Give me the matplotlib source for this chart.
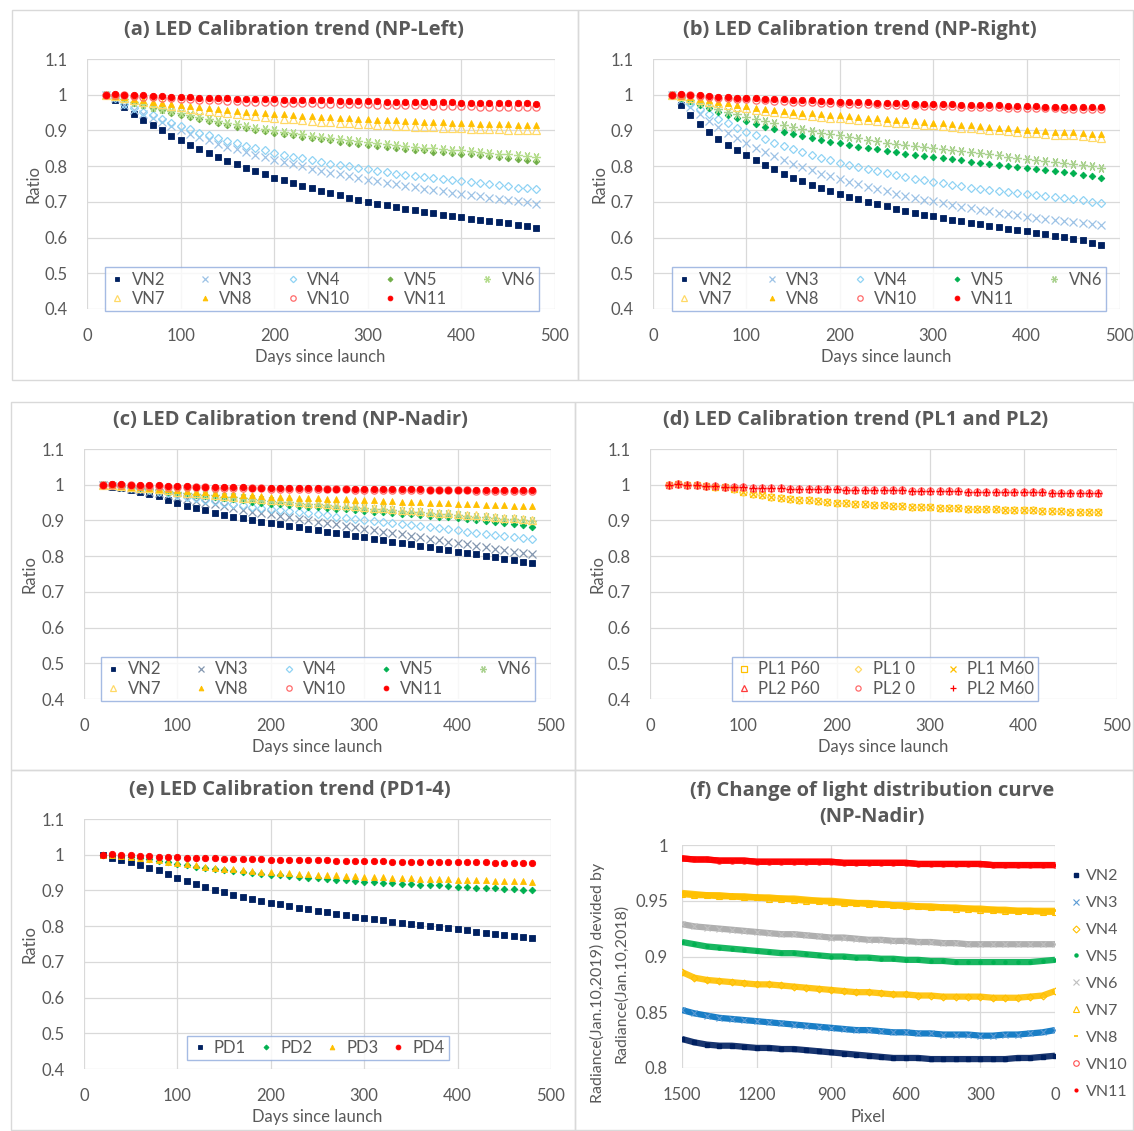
import matplotlib
matplotlib.use('Agg')
import matplotlib.pyplot as plt
from matplotlib.patches import Rectangle

# ---------------- data ----------------
days = [20, 30, 40, 50, 60, 70, 80, 90, 100, 110, 120, 130, 140, 150, 160, 170, 180, 190, 200,
        210, 220, 230, 240, 250, 260, 270, 280, 290, 300, 310, 320, 330, 340, 350, 360, 370, 380,
        390, 400, 410, 420, 430, 440, 450, 460, 470, 480]

# (a) NP-Left
a_VN2 = [1.000,0.985,0.965,0.945,0.930,0.915,0.900,0.885,0.872,0.860,0.848,0.836,0.825,0.815,0.805,0.795,0.786,0.777,0.768,0.760,0.752,0.745,0.738,0.731,0.724,0.718,0.712,0.706,0.700,0.695,0.690,0.685,0.680,0.676,0.672,0.668,0.664,0.660,0.657,0.653,0.650,0.646,0.643,0.640,0.636,0.632,0.627]
a_VN3 = [1.000,0.990,0.972,0.958,0.946,0.934,0.923,0.912,0.901,0.891,0.881,0.872,0.863,0.855,0.847,0.839,0.832,0.825,0.818,0.811,0.805,0.799,0.793,0.787,0.782,0.777,0.772,0.767,0.762,0.757,0.753,0.749,0.745,0.741,0.737,0.733,0.729,0.726,0.722,0.719,0.716,0.712,0.709,0.706,0.703,0.699,0.695]
a_VN4 = [1.000,0.990,0.975,0.962,0.952,0.942,0.932,0.922,0.912,0.903,0.894,0.886,0.878,0.871,0.864,0.857,0.850,0.844,0.838,0.832,0.827,0.822,0.817,0.812,0.807,0.803,0.799,0.795,0.791,0.787,0.783,0.779,0.776,0.773,0.770,0.767,0.764,0.761,0.758,0.755,0.752,0.749,0.746,0.743,0.740,0.738,0.735]
a_VN5 = [1.000,0.995,0.987,0.978,0.970,0.963,0.956,0.950,0.944,0.938,0.932,0.926,0.921,0.916,0.911,0.906,0.902,0.898,0.894,0.890,0.886,0.882,0.878,0.875,0.872,0.869,0.866,0.863,0.860,0.857,0.854,0.851,0.849,0.846,0.844,0.841,0.839,0.837,0.835,0.833,0.830,0.828,0.826,0.824,0.821,0.818,0.815]
a_VN6 = [1.000,0.996,0.989,0.981,0.973,0.966,0.960,0.954,0.948,0.942,0.937,0.931,0.926,0.921,0.917,0.912,0.908,0.904,0.900,0.896,0.892,0.889,0.885,0.882,0.879,0.876,0.873,0.870,0.867,0.865,0.862,0.859,0.857,0.854,0.852,0.850,0.848,0.846,0.844,0.842,0.839,0.837,0.835,0.833,0.831,0.828,0.825]
a_VN7 = [1.000,0.996,0.991,0.986,0.981,0.977,0.973,0.969,0.965,0.961,0.958,0.954,0.951,0.948,0.945,0.942,0.940,0.937,0.935,0.933,0.931,0.929,0.927,0.925,0.923,0.922,0.920,0.919,0.917,0.916,0.915,0.913,0.912,0.911,0.910,0.909,0.908,0.907,0.906,0.905,0.904,0.903,0.903,0.902,0.901,0.901,0.900]
a_VN8 = [1.000,0.997,0.993,0.989,0.985,0.981,0.978,0.975,0.972,0.969,0.966,0.963,0.960,0.958,0.955,0.953,0.951,0.949,0.947,0.945,0.943,0.941,0.940,0.938,0.937,0.935,0.934,0.933,0.931,0.930,0.929,0.928,0.927,0.926,0.925,0.924,0.923,0.922,0.921,0.920,0.919,0.918,0.918,0.917,0.916,0.916,0.915]
a_VN10 = [1.000,1.000,0.998,0.996,0.994,0.993,0.991,0.990,0.988,0.987,0.986,0.985,0.984,0.983,0.982,0.981,0.980,0.980,0.979,0.978,0.977,0.977,0.976,0.975,0.975,0.974,0.974,0.973,0.973,0.972,0.972,0.971,0.971,0.970,0.970,0.969,0.969,0.969,0.968,0.968,0.967,0.967,0.967,0.966,0.966,0.965,0.965]
a_VN11 = [1.000,1.003,1.000,0.999,0.998,0.997,0.996,0.995,0.994,0.993,0.992,0.991,0.990,0.990,0.989,0.988,0.988,0.987,0.987,0.986,0.986,0.985,0.985,0.984,0.984,0.983,0.983,0.982,0.982,0.982,0.981,0.981,0.980,0.980,0.980,0.979,0.979,0.979,0.978,0.978,0.977,0.977,0.977,0.976,0.976,0.976,0.975]

# (b) NP-Right
b_VN2 = [1.000,0.970,0.943,0.918,0.896,0.877,0.860,0.844,0.830,0.816,0.803,0.791,0.779,0.768,0.758,0.748,0.739,0.730,0.722,0.714,0.707,0.700,0.693,0.687,0.681,0.675,0.669,0.664,0.659,0.654,0.649,0.645,0.641,0.637,0.633,0.629,0.625,0.621,0.617,0.613,0.609,0.605,0.601,0.597,0.592,0.586,0.578]
b_VN3 = [1.000,0.985,0.965,0.945,0.926,0.909,0.893,0.878,0.864,0.851,0.839,0.828,0.817,0.807,0.797,0.788,0.779,0.771,0.763,0.756,0.749,0.742,0.735,0.729,0.723,0.717,0.711,0.706,0.701,0.696,0.691,0.686,0.682,0.678,0.674,0.670,0.666,0.662,0.658,0.655,0.652,0.649,0.646,0.643,0.640,0.638,0.635]
b_VN4 = [1.000,0.990,0.975,0.960,0.946,0.932,0.920,0.908,0.897,0.886,0.876,0.866,0.857,0.848,0.840,0.832,0.824,0.817,0.810,0.803,0.797,0.791,0.785,0.780,0.775,0.770,0.765,0.760,0.756,0.752,0.748,0.744,0.740,0.737,0.734,0.731,0.728,0.725,0.722,0.719,0.716,0.713,0.710,0.707,0.704,0.700,0.696]
b_VN5 = [1.000,0.990,0.982,0.972,0.962,0.953,0.944,0.935,0.927,0.919,0.911,0.904,0.897,0.891,0.885,0.879,0.874,0.869,0.864,0.859,0.855,0.851,0.847,0.843,0.839,0.835,0.832,0.828,0.825,0.822,0.819,0.816,0.813,0.810,0.807,0.804,0.801,0.798,0.795,0.792,0.789,0.786,0.783,0.780,0.776,0.771,0.766]
b_VN6 = [1.000,0.993,0.985,0.977,0.969,0.961,0.953,0.946,0.939,0.932,0.926,0.920,0.914,0.909,0.904,0.899,0.894,0.890,0.886,0.882,0.878,0.874,0.870,0.866,0.863,0.860,0.857,0.854,0.851,0.848,0.845,0.842,0.839,0.836,0.833,0.830,0.827,0.824,0.821,0.818,0.815,0.812,0.809,0.806,0.803,0.799,0.795]
b_VN7 = [1.000,0.996,0.991,0.986,0.981,0.977,0.972,0.967,0.963,0.958,0.955,0.951,0.948,0.945,0.942,0.940,0.938,0.936,0.934,0.932,0.930,0.928,0.926,0.924,0.922,0.920,0.918,0.916,0.914,0.912,0.910,0.908,0.906,0.904,0.902,0.900,0.898,0.896,0.894,0.892,0.890,0.888,0.887,0.886,0.884,0.882,0.880]
b_VN8 = [1.000,0.997,0.993,0.988,0.984,0.980,0.976,0.972,0.968,0.964,0.961,0.958,0.955,0.952,0.950,0.948,0.946,0.944,0.942,0.940,0.938,0.936,0.934,0.932,0.930,0.928,0.926,0.924,0.922,0.920,0.918,0.916,0.914,0.912,0.910,0.908,0.906,0.904,0.902,0.900,0.898,0.897,0.896,0.895,0.893,0.891,0.889]
b_VN10 = [1.000,1.000,0.998,0.996,0.994,0.992,0.990,0.988,0.987,0.985,0.984,0.983,0.982,0.981,0.980,0.979,0.978,0.977,0.976,0.975,0.974,0.974,0.973,0.972,0.971,0.971,0.970,0.969,0.969,0.968,0.968,0.967,0.966,0.966,0.965,0.965,0.964,0.964,0.963,0.963,0.962,0.962,0.961,0.961,0.961,0.960,0.960]
b_VN11 = [1.000,1.003,1.000,0.998,0.997,0.995,0.994,0.992,0.991,0.990,0.989,0.988,0.987,0.986,0.985,0.984,0.983,0.982,0.981,0.980,0.979,0.979,0.978,0.977,0.976,0.976,0.975,0.974,0.974,0.973,0.973,0.972,0.971,0.971,0.970,0.970,0.969,0.969,0.968,0.968,0.967,0.967,0.966,0.966,0.966,0.965,0.965]

# (c) NP-Nadir
c_VN2 = [1.000,0.995,0.990,0.985,0.980,0.975,0.968,0.958,0.949,0.941,0.934,0.928,0.922,0.916,0.911,0.906,0.901,0.897,0.893,0.889,0.885,0.881,0.877,0.873,0.869,0.865,0.861,0.857,0.853,0.849,0.845,0.841,0.837,0.833,0.829,0.825,0.821,0.817,0.813,0.809,0.805,0.801,0.797,0.793,0.789,0.785,0.781]
c_VN3 = [1.000,0.997,0.993,0.989,0.985,0.981,0.977,0.972,0.966,0.960,0.955,0.950,0.945,0.940,0.935,0.930,0.925,0.921,0.917,0.913,0.909,0.905,0.901,0.897,0.893,0.889,0.885,0.881,0.877,0.873,0.869,0.865,0.861,0.857,0.853,0.849,0.845,0.841,0.837,0.833,0.829,0.825,0.821,0.817,0.813,0.809,0.805]
c_VN4 = [1.000,0.998,0.995,0.992,0.988,0.984,0.980,0.976,0.971,0.966,0.962,0.958,0.954,0.950,0.946,0.942,0.938,0.935,0.932,0.929,0.926,0.923,0.920,0.917,0.914,0.911,0.908,0.905,0.902,0.899,0.896,0.893,0.890,0.887,0.884,0.881,0.878,0.875,0.872,0.869,0.866,0.863,0.860,0.857,0.854,0.851,0.847]
c_VN5 = [1.000,0.998,0.996,0.993,0.990,0.987,0.984,0.981,0.977,0.974,0.971,0.968,0.965,0.962,0.959,0.956,0.953,0.950,0.947,0.945,0.943,0.941,0.939,0.937,0.935,0.933,0.931,0.929,0.927,0.925,0.923,0.921,0.919,0.917,0.915,0.913,0.911,0.909,0.907,0.905,0.902,0.899,0.896,0.893,0.890,0.886,0.882]
c_VN6 = [1.000,0.998,0.996,0.994,0.991,0.989,0.986,0.983,0.980,0.977,0.975,0.972,0.970,0.967,0.965,0.962,0.960,0.958,0.955,0.953,0.951,0.949,0.947,0.945,0.943,0.941,0.939,0.937,0.935,0.933,0.931,0.929,0.927,0.925,0.923,0.921,0.919,0.917,0.915,0.913,0.911,0.909,0.907,0.905,0.903,0.901,0.899]
c_VN7 = [1.000,0.998,0.996,0.994,0.992,0.990,0.987,0.984,0.981,0.978,0.976,0.973,0.971,0.968,0.966,0.964,0.962,0.960,0.958,0.956,0.954,0.952,0.950,0.948,0.946,0.944,0.942,0.940,0.938,0.936,0.934,0.932,0.930,0.928,0.926,0.924,0.922,0.920,0.918,0.916,0.914,0.912,0.910,0.908,0.906,0.904,0.902]
c_VN8 = [1.000,0.999,0.997,0.995,0.993,0.991,0.989,0.987,0.985,0.983,0.981,0.979,0.977,0.975,0.973,0.971,0.970,0.968,0.967,0.966,0.965,0.964,0.963,0.962,0.961,0.960,0.959,0.958,0.957,0.956,0.955,0.954,0.953,0.952,0.951,0.950,0.949,0.948,0.947,0.946,0.945,0.944,0.943,0.942,0.941,0.941,0.940]
c_VN10 = [1.000,1.000,0.999,0.998,0.997,0.996,0.996,0.995,0.994,0.994,0.993,0.993,0.992,0.992,0.991,0.991,0.990,0.990,0.989,0.989,0.989,0.988,0.988,0.988,0.987,0.987,0.987,0.986,0.986,0.986,0.986,0.985,0.985,0.985,0.985,0.984,0.984,0.984,0.984,0.984,0.983,0.983,0.983,0.983,0.983,0.982,0.982]
c_VN11 = [1.000,1.003,1.001,1.000,0.999,0.998,0.998,0.997,0.996,0.996,0.995,0.995,0.994,0.994,0.993,0.993,0.992,0.992,0.991,0.991,0.991,0.990,0.990,0.990,0.989,0.989,0.989,0.988,0.988,0.988,0.988,0.987,0.987,0.987,0.987,0.986,0.986,0.986,0.986,0.986,0.985,0.985,0.985,0.985,0.985,0.984,0.984]

# (d) PL1 and PL2
PL1_P60 = [1.000,1.001,0.999,0.998,0.997,0.995,0.993,0.988,0.981,0.975,0.970,0.966,0.963,0.960,0.958,0.956,0.954,0.952,0.950,0.948,0.947,0.945,0.944,0.943,0.941,0.940,0.939,0.938,0.937,0.936,0.935,0.934,0.933,0.932,0.931,0.931,0.930,0.929,0.928,0.928,0.927,0.926,0.926,0.925,0.924,0.924,0.923]
PL1_0 = [1.000,1.001,0.999,0.998,0.997,0.995,0.993,0.988,0.981,0.975,0.970,0.966,0.963,0.960,0.958,0.956,0.954,0.952,0.950,0.948,0.947,0.945,0.944,0.943,0.941,0.940,0.939,0.938,0.937,0.936,0.935,0.934,0.933,0.932,0.931,0.931,0.930,0.929,0.928,0.928,0.927,0.926,0.926,0.925,0.924,0.924,0.923]
PL1_M60 = [1.000,1.001,0.999,0.998,0.997,0.995,0.993,0.988,0.981,0.975,0.970,0.966,0.963,0.960,0.958,0.956,0.954,0.952,0.950,0.948,0.947,0.945,0.944,0.943,0.941,0.940,0.939,0.938,0.937,0.936,0.935,0.934,0.933,0.932,0.931,0.931,0.930,0.929,0.928,0.928,0.927,0.926,0.926,0.925,0.924,0.924,0.923]
PL2_P60 = [1.000,1.001,0.999,0.998,0.997,0.996,0.995,0.994,0.993,0.992,0.991,0.991,0.990,0.989,0.989,0.988,0.988,0.987,0.987,0.986,0.986,0.985,0.985,0.984,0.984,0.984,0.983,0.983,0.983,0.982,0.982,0.982,0.981,0.981,0.981,0.980,0.980,0.980,0.979,0.979,0.979,0.978,0.978,0.978,0.978,0.977,0.977]
PL2_0 = [1.000,1.001,0.999,0.998,0.997,0.996,0.995,0.994,0.993,0.992,0.991,0.991,0.990,0.989,0.989,0.988,0.988,0.987,0.987,0.986,0.986,0.985,0.985,0.984,0.984,0.984,0.983,0.983,0.983,0.982,0.982,0.982,0.981,0.981,0.981,0.980,0.980,0.980,0.979,0.979,0.979,0.978,0.978,0.978,0.978,0.977,0.977]
PL2_M60 = [1.000,1.001,0.999,0.998,0.997,0.996,0.995,0.994,0.993,0.992,0.991,0.991,0.990,0.989,0.989,0.988,0.988,0.987,0.987,0.986,0.986,0.985,0.985,0.984,0.984,0.984,0.983,0.983,0.983,0.982,0.982,0.982,0.981,0.981,0.981,0.980,0.980,0.980,0.979,0.979,0.979,0.978,0.978,0.978,0.978,0.977,0.977]

# (e) PD1-4
PD1 = [1.000,0.992,0.986,0.979,0.971,0.964,0.956,0.946,0.936,0.927,0.918,0.910,0.902,0.895,0.888,0.882,0.876,0.871,0.866,0.861,0.856,0.851,0.847,0.843,0.839,0.835,0.831,0.827,0.823,0.819,0.816,0.812,0.809,0.806,0.803,0.800,0.797,0.794,0.791,0.788,0.785,0.782,0.779,0.776,0.773,0.770,0.766]
PD2 = [1.000,0.998,0.996,0.993,0.990,0.987,0.983,0.979,0.975,0.971,0.967,0.963,0.960,0.957,0.954,0.951,0.948,0.946,0.944,0.942,0.940,0.938,0.936,0.934,0.932,0.930,0.928,0.927,0.925,0.924,0.922,0.921,0.919,0.918,0.916,0.915,0.914,0.912,0.911,0.910,0.908,0.907,0.906,0.904,0.903,0.902,0.900]
PD3 = [1.000,0.998,0.996,0.994,0.991,0.988,0.985,0.981,0.977,0.973,0.970,0.967,0.964,0.961,0.959,0.957,0.955,0.953,0.951,0.950,0.948,0.947,0.945,0.944,0.943,0.942,0.941,0.940,0.939,0.938,0.937,0.936,0.935,0.934,0.933,0.932,0.931,0.931,0.930,0.929,0.929,0.928,0.927,0.927,0.926,0.926,0.925]
PD4 = [1.000,1.001,0.999,0.998,0.997,0.996,0.995,0.994,0.993,0.992,0.991,0.990,0.990,0.989,0.988,0.988,0.987,0.987,0.986,0.986,0.985,0.985,0.985,0.984,0.984,0.983,0.983,0.983,0.982,0.982,0.982,0.981,0.981,0.981,0.980,0.980,0.980,0.980,0.979,0.979,0.979,0.979,0.978,0.978,0.978,0.978,0.978]

# (f) light distribution curve, pixel 1500 -> 0
pixels = [1500,1450,1400,1350,1300,1250,1200,1150,1100,1050,1000,950,900,850,800,750,700,650,600,550,500,450,400,350,300,250,200,150,100,50,0]
f_VN2 = [0.826,0.823,0.821,0.820,0.820,0.819,0.818,0.818,0.817,0.817,0.816,0.815,0.814,0.813,0.812,0.811,0.810,0.809,0.809,0.809,0.808,0.808,0.808,0.808,0.808,0.808,0.808,0.809,0.809,0.810,0.811]
f_VN3 = [0.852,0.849,0.847,0.845,0.844,0.843,0.842,0.841,0.840,0.839,0.838,0.837,0.836,0.835,0.834,0.834,0.833,0.832,0.832,0.831,0.831,0.830,0.830,0.830,0.829,0.829,0.830,0.830,0.831,0.832,0.834]
f_VN4 = [0.886,0.881,0.879,0.878,0.877,0.876,0.875,0.875,0.874,0.873,0.872,0.871,0.870,0.869,0.868,0.868,0.867,0.866,0.866,0.865,0.865,0.864,0.864,0.864,0.864,0.863,0.863,0.863,0.864,0.865,0.869]
f_VN5 = [0.913,0.911,0.909,0.908,0.907,0.906,0.905,0.904,0.903,0.903,0.902,0.901,0.900,0.900,0.899,0.899,0.898,0.898,0.897,0.897,0.896,0.896,0.895,0.895,0.895,0.895,0.895,0.895,0.895,0.896,0.897]
f_VN6 = [0.929,0.927,0.926,0.925,0.924,0.923,0.922,0.921,0.920,0.920,0.919,0.918,0.917,0.917,0.916,0.915,0.915,0.914,0.914,0.913,0.913,0.912,0.912,0.911,0.911,0.911,0.911,0.911,0.911,0.911,0.911]
f_VN7 = [0.956,0.955,0.955,0.954,0.954,0.953,0.953,0.952,0.952,0.951,0.950,0.950,0.949,0.948,0.948,0.947,0.947,0.946,0.945,0.945,0.944,0.944,0.943,0.943,0.942,0.942,0.941,0.941,0.941,0.940,0.940]
f_VN8 = [0.957,0.956,0.955,0.955,0.954,0.954,0.953,0.953,0.952,0.952,0.951,0.950,0.950,0.949,0.948,0.948,0.947,0.946,0.946,0.945,0.945,0.944,0.944,0.943,0.943,0.942,0.942,0.941,0.941,0.941,0.941]
f_VN10 = [0.988,0.987,0.987,0.986,0.986,0.986,0.985,0.985,0.985,0.985,0.985,0.985,0.985,0.984,0.984,0.984,0.984,0.984,0.984,0.983,0.983,0.983,0.983,0.983,0.983,0.982,0.982,0.982,0.982,0.982,0.982]
f_VN11 = [0.988,0.987,0.987,0.986,0.986,0.986,0.985,0.985,0.985,0.985,0.985,0.985,0.985,0.984,0.984,0.984,0.984,0.984,0.984,0.983,0.983,0.983,0.983,0.983,0.983,0.982,0.982,0.982,0.982,0.982,0.982]

day_ticks = [0, 100, 200, 300, 400, 500]
ratio_ticks = [0.4, 0.5, 0.6, 0.7, 0.8, 0.9, 1.0, 1.1]
ratio_labels = ['0.4', '0.5', '0.6', '0.7', '0.8', '0.9', '1', '1.1']
pixel_ticks = [0, 300, 600, 900, 1200, 1500]
rad_ticks = [0.8, 0.85, 0.9, 0.95, 1.0]
rad_labels = ['0.8', '0.85', '0.9', '0.95', '1']

# ---------------- style ----------------
W, H = 1134, 1131
plt.rcParams['font.family'] = ['Lato', 'DejaVu Sans']
TXT = '#595959'
GRID = '#d9d9d9'
LEGEDGE = '#8faadc'
NAVY = '#002060'
TITLE_FONT = ['Open Sans', 'Lato', 'DejaVu Sans']

fig = plt.figure(figsize=(W / 100, H / 100), dpi=100)


def box(l, t, r, b):
    return [l / W, 1 - b / H, (r - l) / W, (b - t) / H]


def ftext(x, y, s, **kw):
    fig.text(x / W, 1 - y / H, s, ha='center', va='center', color=TXT, **kw)


# panel borders
for (l, t, r, b) in [(12, 10, 578, 380), (578, 10, 1133, 380), (11, 402, 575, 770),
                     (575, 402, 1133, 770), (11, 770, 575, 1130), (575, 770, 1133, 1130)]:
    fig.add_artist(Rectangle((l / W, 1 - b / H), (r - l) / W, (b - t) / H,
                             transform=fig.transFigure, fill=False, ec=GRID, lw=1))


def vn_styles(c3, c4, c5, c6):
    return {
        'VN2': dict(marker='s', ms=4.3, mfc=NAVY, mec=NAVY, mew=0.6),
        'VN3': dict(marker='x', ms=5.5, mfc='none', mec=c3, mew=0.9),
        'VN4': dict(marker='D', ms=4.3, mfc='none', mec=c4, mew=0.9),
        'VN5': dict(marker='D', ms=3.4, mfc=c5, mec=c5, mew=0.6),
        'VN6': dict(marker=(6, 2, 90), ms=6.5, mfc='none', mec=c6, mew=0.9),
        'VN7': dict(marker='^', ms=5.2, mfc='none', mec='#ffd966', mew=0.9),
        'VN8': dict(marker='^', ms=4.6, mfc='#ffc000', mec='#ffc000', mew=0.6),
        'VN10': dict(marker='o', ms=5.2, mfc='none', mec='#ff6b6b', mew=0.9),
        'VN11': dict(marker='o', ms=4.6, mfc='#ff0000', mec='#ff0000', mew=0.6),
    }


def trend_axes(rect, title, tpos, xlpos, ylpos):
    ax = fig.add_axes(box(*rect))
    ax.set_xlim(0, 500)
    ax.set_ylim(0.4, 1.1)
    ax.set_xticks(day_ticks)
    ax.set_yticks(ratio_ticks)
    ax.set_yticklabels(ratio_labels)
    ax.grid(True, color=GRID, lw=0.9)
    ax.set_axisbelow(True)
    for s in ax.spines.values():
        s.set_visible(False)
    ax.tick_params(length=0, labelsize=12, colors=TXT)
    ax.tick_params(axis='x', pad=14)
    ax.tick_params(axis='y', pad=14)
    ftext(*tpos, title, fontsize=14.5, fontweight='bold', family=TITLE_FONT)
    ftext(*xlpos, 'Days since launch', fontsize=12)
    ftext(*ylpos, 'Ratio', fontsize=12, rotation=90)
    return ax


def add_legend(ax, handles, labels, center, ncol, colsp):
    lg = ax.legend(handles, labels, loc='center', ncol=ncol,
                   bbox_to_anchor=(center[0] / W, 1 - center[1] / H),
                   bbox_transform=fig.transFigure, frameon=True, fancybox=False,
                   edgecolor=LEGEDGE, fontsize=12, labelspacing=0.18,
                   columnspacing=colsp, handletextpad=0.35, handlelength=1.0,
                   markerscale=0.75, borderpad=0.25, borderaxespad=0)
    lg.get_frame().set_linewidth(1.0)
    for t in lg.get_texts():
        t.set_color(TXT)
    return lg


vn_names = ['VN2', 'VN3', 'VN4', 'VN5', 'VN6', 'VN7', 'VN8', 'VN10', 'VN11']
row_major9 = [0, 5, 1, 6, 2, 7, 3, 8, 4]

panels = [
    ((87, 59, 555, 309), '(a) LED Calibration trend (NP-Left)', (294, 30), (320, 357), (33, 184),
     [a_VN2, a_VN3, a_VN4, a_VN5, a_VN6, a_VN7, a_VN8, a_VN10, a_VN11],
     vn_styles('#9dc3e6', '#8fd3f4', '#70ad47', '#b4dc8c'), (322, 289)),
    ((653, 59, 1120, 309), '(b) LED Calibration trend (NP-Right)', (860, 30), (886, 357), (600, 184),
     [b_VN2, b_VN3, b_VN4, b_VN5, b_VN6, b_VN7, b_VN8, b_VN10, b_VN11],
     vn_styles('#9dc3e6', '#8fd3f4', '#00b050', '#a9d18e'), (889, 289)),
    ((84, 449, 551, 699), '(c) LED Calibration trend (NP-Nadir)', (290, 420), (317, 747), (30, 574),
     [c_VN2, c_VN3, c_VN4, c_VN5, c_VN6, c_VN7, c_VN8, c_VN10, c_VN11],
     vn_styles('#8497b0', '#8fd3f4', '#00b050', '#a9d18e'), (318, 679)),
]

for rect, title, tpos, xlpos, ylpos, series, styles, lcenter in panels:
    ax = trend_axes(rect, title, tpos, xlpos, ylpos)
    hs = []
    for name, vals in zip(vn_names, series):
        h, = ax.plot(days, vals, ls='none', label=name, **styles[name])
        hs.append(h)
    add_legend(ax, [hs[i] for i in row_major9], [vn_names[i] for i in row_major9], lcenter, 5, 1.9)

# (d)
ax = trend_axes((650, 449, 1117, 699), '(d) LED Calibration trend (PL1 and PL2)', (856, 420), (883, 747), (597, 574))
pl_names = ['PL1 P60', 'PL1 0', 'PL1 M60', 'PL2 P60', 'PL2 0', 'PL2 M60']
pl_series = [PL1_P60, PL1_0, PL1_M60, PL2_P60, PL2_0, PL2_M60]
pl_styles = [
    dict(marker='s', ms=5, mfc='none', mec='#ffc000', mew=0.9),
    dict(marker='D', ms=4.3, mfc='none', mec='#ffd966', mew=0.9),
    dict(marker='x', ms=5, mfc='none', mec='#ffc000', mew=0.9),
    dict(marker='^', ms=5, mfc='none', mec='#ff3b3b', mew=0.9),
    dict(marker='o', ms=5, mfc='none', mec='#ff6b6b', mew=0.9),
    dict(marker='+', ms=6, mfc='none', mec='#ff0000', mew=0.9),
]
hs = []
for name, vals, st in zip(pl_names, pl_series, pl_styles):
    h, = ax.plot(days, vals, ls='none', label=name, **st)
    hs.append(h)
order6 = [0, 3, 1, 4, 2, 5]
add_legend(ax, [hs[i] for i in order6], [pl_names[i] for i in order6], (885, 679), 3, 1.8)

# (e)
ax = trend_axes((84, 819, 551, 1069), '(e) LED Calibration trend (PD1-4)', (290, 790), (317, 1117), (30, 944))
pd_names = ['PD1', 'PD2', 'PD3', 'PD4']
pd_series = [PD1, PD2, PD3, PD4]
pd_styles = [
    dict(marker='s', ms=4.3, mfc=NAVY, mec=NAVY, mew=0.6),
    dict(marker='D', ms=3.4, mfc='#00b050', mec='#00b050', mew=0.6),
    dict(marker='^', ms=4.6, mfc='#ffc000', mec='#ffc000', mew=0.6),
    dict(marker='o', ms=4.6, mfc='#ff0000', mec='#ff0000', mew=0.6),
]
hs = []
for name, vals, st in zip(pd_names, pd_series, pd_styles):
    h, = ax.plot(days, vals, ls='none', label=name, **st)
    hs.append(h)
add_legend(ax, hs, pd_names, (318, 1048), 4, 0.7)

# (f)
ax = fig.add_axes(box(682, 845, 1055, 1068))
ax.set_xlim(1500, 0)
ax.set_ylim(0.8, 1.0)
ax.set_xticks(pixel_ticks)
ax.set_yticks(rad_ticks)
ax.set_yticklabels(rad_labels)
ax.grid(True, color=GRID, lw=0.9)
ax.set_axisbelow(True)
for s in ax.spines.values():
    s.set_visible(False)
ax.tick_params(length=0, labelsize=12, colors=TXT)
ax.tick_params(axis='x', pad=14)
ax.tick_params(axis='y', pad=10)
ftext(872, 804, '(f) Change of light distribution curve\n(NP-Nadir)', fontsize=14.5, fontweight='bold',
      family=TITLE_FONT, linespacing=1.45)
ftext(868, 1117, 'Pixel', fontsize=12)
ftext(597, 983, 'Radiance(Jan.10,2019) devided by', fontsize=11.5, rotation=90)
ftext(621, 983, 'Radiance(Jan.10,2018)', fontsize=11.5, rotation=90)

f_series = [f_VN2, f_VN3, f_VN4, f_VN5, f_VN6, f_VN7, f_VN8, f_VN10, f_VN11]
f_colors = [NAVY, '#0070c0', '#ffc000', '#00b050', '#a6a6a6', '#ffc000', '#ffc000', '#ff0000', '#ff0000']
f_marks = [
    dict(marker='s', ms=2.5, mfc=NAVY, mec=NAVY),
    dict(marker='x', ms=4.5, mec='#5b9bd5', mew=0.8),
    dict(marker='D', ms=3.5, mfc='none', mec='#ffc000', mew=0.8),
    dict(marker='o', ms=2.2, mfc='#00b050', mec='#00b050'),
    dict(marker='x', ms=4, mec='#bfbfbf', mew=0.8),
    dict(marker='^', ms=4, mfc='none', mec='#ffc000', mew=0.8),
    dict(marker='_', ms=3, mec='#ffc000', mew=1.2),
    dict(marker='o', ms=4, mfc='none', mec='#ff5050', mew=0.8),
    dict(marker='o', ms=2, mfc='#ff0000', mec='#ff0000'),
]
fh = []
for name, vals, col, mk in zip(vn_names, f_series, f_colors, f_marks):
    ax.plot(pixels, vals, color=col, lw=4.5, alpha=0.9, solid_capstyle='butt', solid_joinstyle='round')
    h, = ax.plot(pixels, vals, ls='none', label=name, **mk)
    fh.append(h)
lg = ax.legend(fh, vn_names, loc='upper left', bbox_to_anchor=(1070 / W, 1 - 869 / H),
               bbox_transform=fig.transFigure, frameon=False, fontsize=11.5, labelspacing=0.8,
               handletextpad=0.3, handlelength=0.7, borderpad=0, borderaxespad=0)
for t in lg.get_texts():
    t.set_color(TXT)

fig.savefig('out.png', dpi=100)
